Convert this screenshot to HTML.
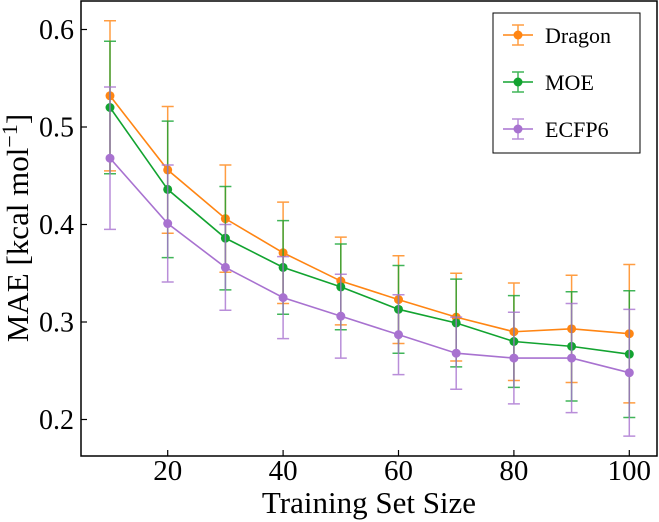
<!DOCTYPE html>
<html><head><meta charset="utf-8"><style>
html,body{margin:0;padding:0;background:#fff;}
svg{display:block;font-family:"Liberation Serif","DejaVu Serif",serif;}
</style></head><body>
<svg id="chart" width="659" height="522" viewBox="0 0 659 522"></svg>
<script>
const sizes=[10,20,30,40,50,60,70,80,90,100];
const dragonMean=[0.532,0.456,0.406,0.371,0.342,0.323,0.305,0.290,0.293,0.288];
const dragonErr=[0.077,0.065,0.055,0.052,0.045,0.045,0.045,0.050,0.055,0.071];
const moeMean=[0.520,0.436,0.386,0.356,0.336,0.313,0.299,0.280,0.275,0.267];
const moeErr=[0.068,0.070,0.053,0.048,0.044,0.045,0.045,0.047,0.056,0.065];
const ecfpMean=[0.468,0.401,0.356,0.325,0.306,0.287,0.268,0.263,0.263,0.248];
const ecfpErr=[0.073,0.060,0.044,0.042,0.043,0.041,0.037,0.047,0.056,0.065];
const xTicks=[20,40,60,80,100];
const yTicks=[0.2,0.3,0.4,0.5,0.6];

const NS="http://www.w3.org/2000/svg";
const svg=document.getElementById('chart');
const L=81,R=657,T=1,B=456;
function xs(v){return 52.3+(v)*5.77;}
function ys(v){return 29.5+(0.6-v)*975;}
function mk(tag,attrs,parent){const e=document.createElementNS(NS,tag);for(const k in attrs)e.setAttribute(k,attrs[k]);(parent||svg).appendChild(e);return e;}

const frame=mk('rect',{x:L,y:T,width:R-L,height:B-T,fill:'none',stroke:'#000','stroke-width':1.5});



xTicks.forEach(t=>{
  const x=xs(t);
  const tk=mk('line',{x1:x,x2:x,y1:B,y2:B-6,stroke:'#000','stroke-width':1.2});
  
  
  const lb=mk('text',{x:x,y:480,'text-anchor':'middle','font-size':29,fill:'#000'});
  lb.textContent=t;
  
  
});
yTicks.forEach(t=>{
  const y=ys(t);
  const tk=mk('line',{x1:L,x2:L+6,y1:y,y2:y,stroke:'#000','stroke-width':1.2});
  
  
  const lb=mk('text',{x:L-7,y:y+9.5,'text-anchor':'end','font-size':28,fill:'#000'});
  lb.textContent=t.toFixed(1);
  
  
});

const xt=mk('text',{x:369,y:513,'text-anchor':'middle','font-size':31,fill:'#000'});
xt.textContent='Training Set Size';


const yt=mk('text',{x:0,y:0,'text-anchor':'middle','font-size':31,fill:'#000',transform:'translate(28,228) rotate(-90)'});
yt.innerHTML='MAE [kcal mol<tspan dy="-11" font-size="22">−1</tspan><tspan dy="11">]</tspan>';



const series=[
  {name:'dragon',mean:dragonMean,err:dragonErr,color:'#ff8513'},
  {name:'moe',mean:moeMean,err:moeErr,color:'#12a330'},
  {name:'ecfp6',mean:ecfpMean,err:ecfpErr,color:'#a872d0'}
];
series.forEach(s=>{
  const g=mk('g',{});
  
  
  sizes.forEach((v,i)=>{
    const x=xs(v),y1=ys(s.mean[i]+s.err[i]),y2=ys(s.mean[i]-s.err[i]);
    const eb=mk('path',{d:`M${x},${y1}V${y2}M${x-6},${y1}H${x+6}M${x-6},${y2}H${x+6}`,stroke:s.color,'stroke-width':1.5,fill:'none',opacity:0.8},g);
    
    
  });
  const pts=sizes.map((v,i)=>xs(v)+','+ys(s.mean[i])).join(' ');
  const ln=mk('polyline',{points:pts,fill:'none',stroke:s.color,'stroke-width':1.6},g);
  
  
  sizes.forEach((v,i)=>{
    const c=mk('circle',{cx:xs(v),cy:ys(s.mean[i]),r:4.5,fill:s.color},g);
    
    
  });
});

const lg=mk('g',{});


mk('rect',{x:493,y:13,width:147,height:140,fill:'#fff',stroke:'#000','stroke-width':1},lg);
const labels=['Dragon','MOE','ECFP6'];
series.forEach((s,i)=>{
  const y=35+i*47;
  const e=mk('g',{},lg);
  
  
  mk('path',{d:`M518,${y-10}V${y+10}M512,${y-10}H524M512,${y+10}H524`,stroke:s.color,'stroke-width':1.5,opacity:0.8},e);
  mk('line',{x1:503,x2:533,y1:y,y2:y,stroke:s.color,'stroke-width':1.6},e);
  mk('circle',{cx:518,cy:y,r:4.5,fill:s.color},e);
  const t=mk('text',{x:545,y:y+8,'font-size':22,fill:'#000'},e);
  t.textContent=labels[i];
});
</script>
</body></html>
